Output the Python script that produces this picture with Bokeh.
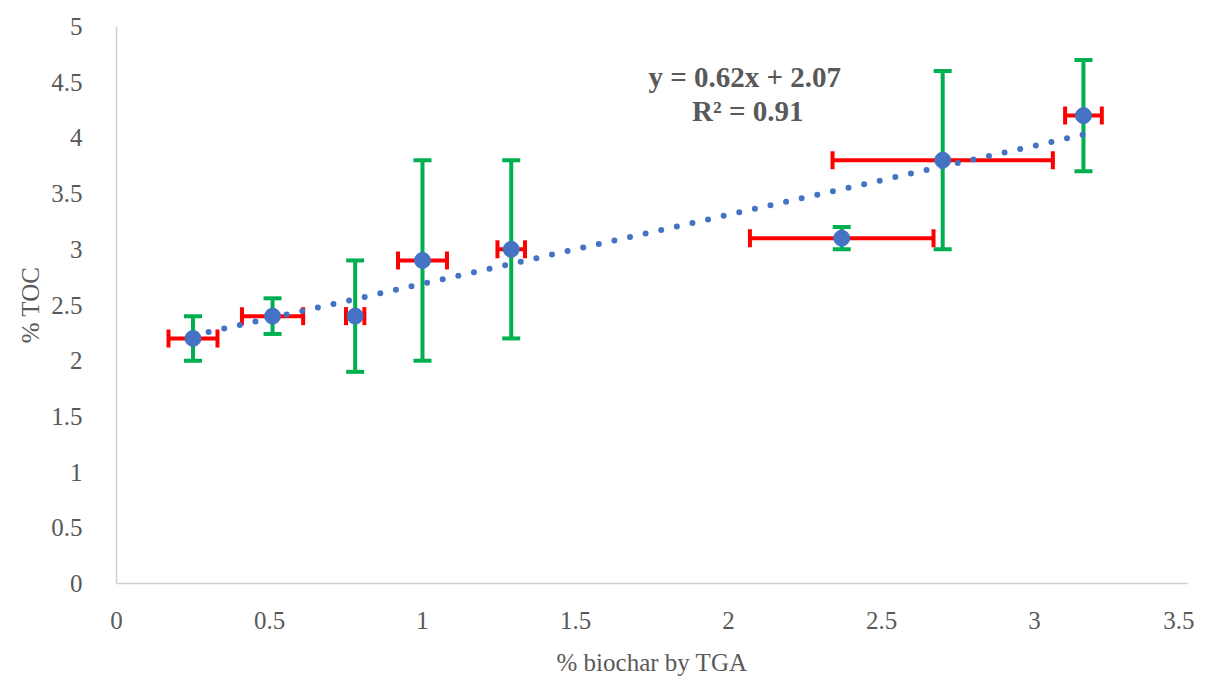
from bokeh.plotting import figure
from bokeh.models import (ColumnDataSource, Whisker, TeeHead, FixedTicker, Range1d,
                          CustomJSTickFormatter)
from bokeh.core.properties import value
from bokeh.embed import file_html
from bokeh.resources import INLINE

# Data
biochar = [0.25, 0.51, 0.78, 1.00, 1.29, 2.37, 2.70, 3.16]
toc = [2.2, 2.4, 2.4, 2.9, 3.0, 3.1, 3.8, 4.2]
biochar_err = [0.08, 0.10, 0.03, 0.08, 0.045, 0.30, 0.36, 0.06]
toc_err = [0.2, 0.16, 0.5, 0.9, 0.8, 0.1, 0.8, 0.5]
slope, intercept = 0.62, 2.07
eq_lines = ["y = 0.62x + 2.07", "R² = 0.91"]
x_ticks = [0, 0.5, 1, 1.5, 2, 2.5, 3, 3.5]
x_tick_labels = ["0", "0.5", "1", "1.5", "2", "2.5", "3", "3.5"]
y_ticks = [0, 0.5, 1, 1.5, 2, 2.5, 3, 3.5, 4, 4.5, 5]
y_tick_labels = ["0", "0.5", "1", "1.5", "2", "2.5", "3", "3.5", "4", "4.5", "5"]
x_title = "% biochar by TGA"
y_title = "% TOC"

FONT = "Liberation Serif"
GREY = "#595959"

src = ColumnDataSource(dict(
    x=biochar, y=toc,
    xl=[a - e for a, e in zip(biochar, biochar_err)],
    xu=[a + e for a, e in zip(biochar, biochar_err)],
    yl=[a - e for a, e in zip(toc, toc_err)],
    yu=[a + e for a, e in zip(toc, toc_err)],
))

p = figure(width=1194, height=678, output_backend="svg", toolbar_location=None,
           x_range=Range1d(0, 3.5), y_range=Range1d(0, 5),
           min_border_left=116, min_border_right=7, min_border_top=26, min_border_bottom=80)
p.outline_line_color = None
p.xgrid.visible = False
p.ygrid.visible = False

fmt_code = "const i = tv.indexOf(tick); return i >= 0 ? tl[i] : String(tick);"
p.xaxis.formatter = CustomJSTickFormatter(args=dict(tv=x_ticks, tl=x_tick_labels), code=fmt_code)
p.yaxis.formatter = CustomJSTickFormatter(args=dict(tv=y_ticks, tl=y_tick_labels), code=fmt_code)
p.xaxis.ticker = FixedTicker(ticks=x_ticks)
p.yaxis.ticker = FixedTicker(ticks=y_ticks)
p.xaxis.axis_label = x_title
p.yaxis.axis_label = y_title

for axes, fam in ((p.xaxis, FONT), (p.yaxis, "serif")):
    axes.axis_line_color = "#D0D0D0"
    axes.axis_line_width = 1.5
    axes.major_tick_line_color = None
    axes.minor_tick_line_color = None
    axes.major_label_text_font = fam
    axes.axis_label_text_font = fam
    axes.major_label_text_font_size = "25px"
    axes.axis_label_text_font_size = "25px"
    axes.major_label_text_color = GREY
    axes.axis_label_text_color = GREY
    axes.axis_label_text_font_style = "normal"

p.xaxis.major_label_standoff = 22
p.yaxis.major_label_standoff = 28
p.xaxis.axis_label_standoff = 17
p.yaxis.axis_label_standoff = 4

# trendline
tx = [min(biochar), max(biochar)]
ty = [slope * v + intercept for v in tx]
p.line(tx, ty, line_color="#4472C4", line_width=6, line_dash="0 16", line_cap="round")

# error bars
green = "#00B050"
red = "#FF0000"
wy = Whisker(source=src, base="x", lower="yl", upper="yu", dimension="height",
             line_color=green, line_width=4,
             upper_head=TeeHead(size=18, line_color=green, line_width=4),
             lower_head=TeeHead(size=18, line_color=green, line_width=4))
wx = Whisker(source=src, base="y", lower="xl", upper="xu", dimension="width",
             line_color=red, line_width=4,
             upper_head=TeeHead(size=18, line_color=red, line_width=4),
             lower_head=TeeHead(size=18, line_color=red, line_width=4))
p.add_layout(wy)
p.add_layout(wx)

# points
p.scatter("x", "y", source=src, size=16, fill_color="#4472C4", line_color="#4472C4")

# equation annotation
p.text(x=[2.053, 2.063], y=[4.55, 4.24], text=eq_lines,
       text_font=value(FONT), text_font_size="29px", text_font_style="bold",
       text_color=GREY, text_align="center", text_baseline="middle")

open("out.html", "w").write(file_html(p, INLINE))
